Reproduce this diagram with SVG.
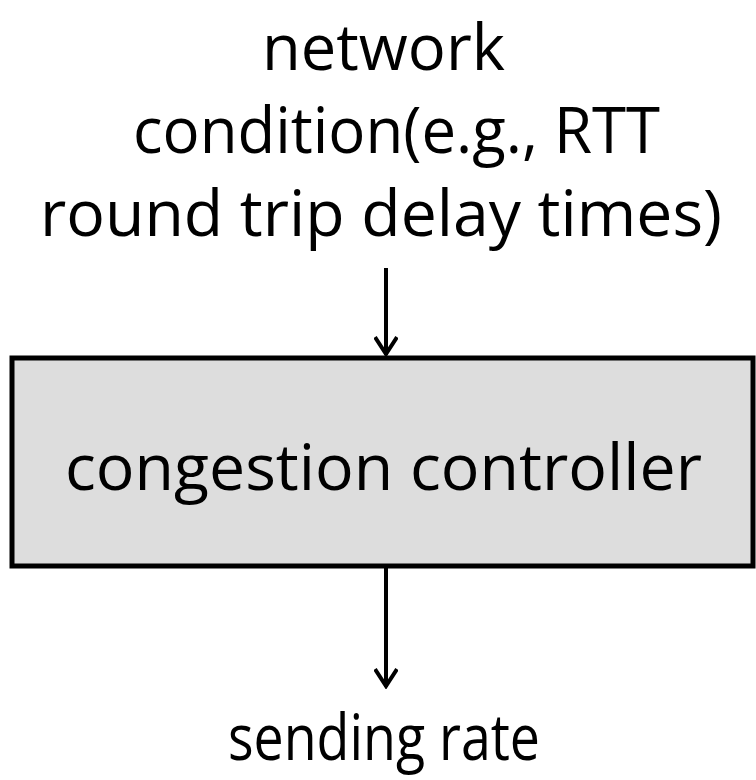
<svg xmlns="http://www.w3.org/2000/svg" width="756" height="780" viewBox="0 0 756 780">
<style>
.t{font-family:"Open Sans","Noto Sans",sans-serif;font-size:64px;fill:#000}
.c{stroke:#000;stroke-width:4;fill:none}
</style>
<defs>
<marker id="ah" markerUnits="userSpaceOnUse" viewBox="0 0 22 24" refX="20" refY="12" markerWidth="22" markerHeight="24" orient="auto">
<path d="M2,1 L19,12 L2,23" stroke="#000" stroke-width="4" fill="none"/>
</marker>
</defs>
<rect width="756" height="780" fill="#fff"/>
<g id="label-top">
<text class="t" x="383.5" y="70" text-anchor="middle" textLength="243" lengthAdjust="spacingAndGlyphs">network</text>
<text class="t" x="396.5" y="153" text-anchor="middle" textLength="527" lengthAdjust="spacingAndGlyphs">condition(e.g., RTT</text>
<text class="t" x="381" y="236" text-anchor="middle" textLength="682" lengthAdjust="spacingAndGlyphs">round trip delay times)</text>
</g>
<g id="controller">
<rect x="12" y="358" width="741" height="208" fill="#dddddd" stroke="#000" stroke-width="5"/>
<text class="t" x="383.5" y="490" text-anchor="middle" textLength="637" lengthAdjust="spacingAndGlyphs">congestion controller</text>
</g>
<g id="label-bottom">
<text class="t" x="384" y="760" text-anchor="middle" textLength="312" lengthAdjust="spacingAndGlyphs">sending rate</text>
</g>
<g id="connectors">
<line class="c" x1="386" y1="268" x2="386" y2="355" marker-end="url(#ah)"/>
<line class="c" x1="386" y1="568" x2="386" y2="687" marker-end="url(#ah)"/>
</g>
</svg>
